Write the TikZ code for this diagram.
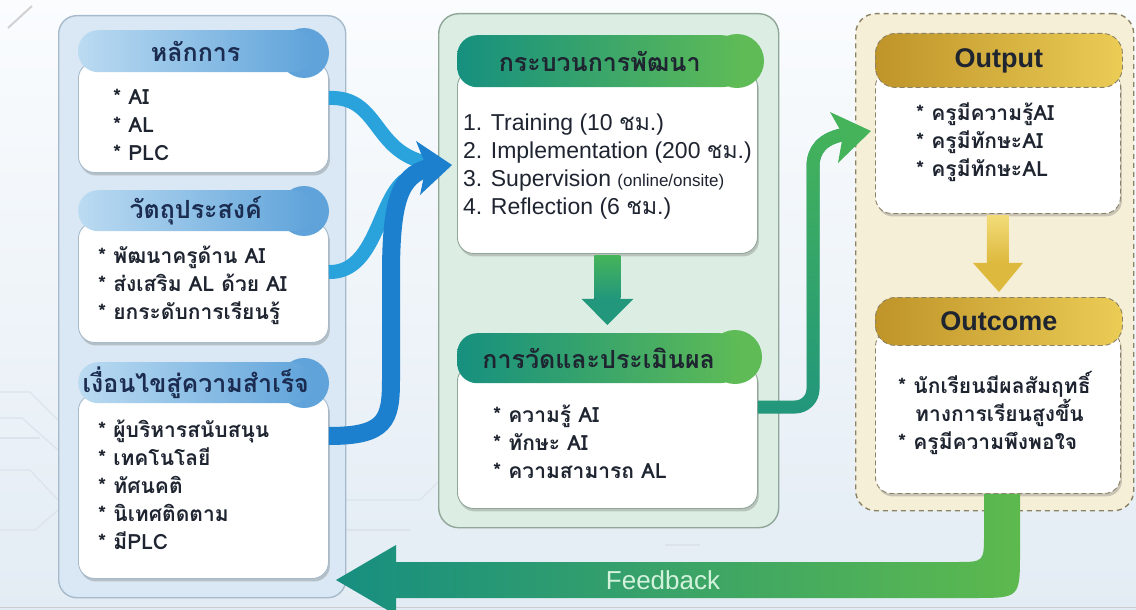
\documentclass[tikz,border=0pt]{standalone}
\usepackage{fontspec}
\setmainfont{Liberation Sans}
\newfontfamily\thai[Script=Thai]{Loma}
\usetikzlibrary{shadows,calc,fadings}
\definecolor{bgtop}{HTML}{FAFCFE}
\definecolor{bgbot}{HTML}{E3ECF4}
\definecolor{lpanel}{HTML}{D9E8F4}
\definecolor{lpanelB}{HTML}{A6BACB}
\definecolor{lhA}{HTML}{BBDBF1}
\definecolor{lhB}{HTML}{5FA3DA}
\definecolor{mpanel}{HTML}{DCEEE3}
\definecolor{mpanelB}{HTML}{8FA698}
\definecolor{mhA}{HTML}{16907F}
\definecolor{mhB}{HTML}{5EBB56}
\definecolor{rpanel}{HTML}{F6EFD7}
\definecolor{rpanelB}{HTML}{8B8266}
\definecolor{rhA}{HTML}{BF9429}
\definecolor{rhB}{HTML}{EBCC55}
\definecolor{txt}{HTML}{1E2430}
\definecolor{navy}{HTML}{1B2C50}
\definecolor{blueA}{HTML}{2AA3DD}
\definecolor{blueB}{HTML}{1C80CF}
\definecolor{fbA}{HTML}{178E80}
\definecolor{fbB}{HTML}{5DB94E}
\definecolor{grA}{HTML}{22977C}
\definecolor{grB}{HTML}{45B35A}
\definecolor{goldA}{HTML}{F2DB78}
\definecolor{goldB}{HTML}{DDB93E}
\definecolor{circ}{HTML}{DCE3EA}
\definecolor{mint}{HTML}{D2F2DC}
\begin{document}
\begin{tikzpicture}[x=1pt,y=-1pt,
  bodybox/.style={draw=#1, line width=0.9pt, fill=white, rounded corners=16pt,
    drop shadow={shadow xshift=1.5pt, shadow yshift=-3pt, opacity=0.35, fill=black!55}},
  hdr/.style={rounded corners=20pt, inner sep=0pt, font=\fontsize{25}{30}\selectfont\bfseries},
  bodytext/.style={anchor=west, align=left, inner sep=0pt, text=txt, font=\fontsize{21}{28}\selectfont\bfseries},
  entext/.style={anchor=west, align=left, inner sep=0pt, text=txt, font=\fontsize{23}{28}\selectfont},
]
% background
\path[use as bounding box, top color=bgtop, bottom color=bgbot] (0,0) rectangle (1136,610);
\draw[gray!40, line width=1pt] (0,607) -- (1136,607);
\draw[gray!35, line width=2pt] (8,28) -- (32,6);
% faint circuit lines
\begin{scope}[circ, line width=1.2pt]
\draw (0,392) -- (30,392) -- (58,420);
\draw (0,418) -- (22,418) -- (58,450);
\draw (0,438) -- (40,438);
\draw (0,470) -- (30,470) -- (58,500);
\draw (0,530) -- (35,530) -- (58,510);
\draw (345,500) -- (420,500) -- (438,482);
\draw (345,530) -- (410,530);
\draw (665,545) -- (700,545);
\end{scope}
% panels
\node[draw=lpanelB, fill=lpanel, line width=1.4pt, rounded corners=18pt, minimum width=287pt, minimum height=582pt, anchor=north west, inner sep=0pt] (lp) at (58,15) {};
\node[draw=mpanelB, fill=mpanel, line width=1.4pt, rounded corners=20pt, minimum width=340pt, minimum height=514pt, anchor=north west, inner sep=0pt] (mp) at (438,13) {};
\node[draw=rpanelB, fill=rpanel, line width=1.4pt, dash pattern=on 5pt off 4pt, rounded corners=20pt, minimum width=278pt, minimum height=497pt, anchor=north west, inner sep=0pt] (rp) at (855,13) {};

% ---------- left column ----------
\node[bodybox=lpanelB, minimum width=250pt, minimum height=110pt, anchor=north west] (b1) at (78,62) {};
\fill[lhB] (304,53) circle (25);
\node[hdr, left color=lhA, right color=lhB, minimum width=235pt, minimum height=42pt, anchor=north west, text=navy] (h1) at (78,30) {\thai หลักการ};
\node[bodytext] (t1) at (113,125) {\thai * AI\\\thai * AL\\\thai * PLC};

\node[bodybox=lpanelB, minimum width=250pt, minimum height=120pt, anchor=north west] (b2) at (78,222) {};
\fill[lhB] (304,211) circle (25);
\node[hdr, left color=lhA, right color=lhB, minimum width=235pt, minimum height=41pt, anchor=north west, text=navy] (h2) at (78,190) {\thai วัตถุประสงค์};
\node[bodytext] (t2) at (98,285) {\thai * พัฒนาครูด้าน AI\\\thai * ส่งเสริม AL ด้วย AI\\\thai * ยกระดับการเรียนรู้};

\node[bodybox=lpanelB, minimum width=250pt, minimum height=184pt, anchor=north west] (b3) at (78,394) {};
\fill[lhB] (304,383) circle (25);
\node[hdr, left color=lhA, right color=lhB, minimum width=235pt, minimum height=41pt, anchor=north west, text=navy] (h3) at (78,362) {\thai เงื่อนไขสู่ความสำเร็จ};
\node[bodytext] (t3) at (98,485) {\thai * ผู้บริหารสนับสนุน\\\thai * เทคโนโลยี\\\thai * ทัศนคติ\\\thai * นิเทศติดตาม\\\thai * มีPLC};

% ---------- middle column ----------
\node[bodybox=mpanelB, minimum width=300pt, minimum height=183pt, anchor=north west] (m1) at (457,70) {};
\fill[mhB] (737,61) circle (27);
\node[hdr, left color=mhA, right color=mhB, minimum width=285pt, minimum height=52pt, anchor=north west, text=txt] (mh1) at (457,35) {\thai กระบวนการพัฒนา};
\node[entext] (mt1) at (463,167) {1. Training (10 {\thai ชม.})\\2. Implementation (200 {\thai ชม.})\\3. Supervision {\fontsize{17}{20}\selectfont(online/onsite)}\\4. Reflection (6 {\thai ชม.})};

\node[bodybox=mpanelB, minimum width=300pt, minimum height=143pt, anchor=north west] (m2) at (457,365) {};
\fill[mhB] (735,357) circle (27);
\node[hdr, left color=mhA, right color=mhB, minimum width=283pt, minimum height=50pt, anchor=north west, text=txt] (mh2) at (457,333) {\thai การวัดและประเมินผล};
\node[bodytext] (mt2) at (493,442) {\thai * ความรู้ AI\\\thai * ทักษะ AI\\\thai * ความสามารถ AL};

% middle down arrow
\fill[top color=grB, bottom color=grA] ($(m1.south)+(-13,2)$) rectangle ($(m1.south)+(13,45)$);
\fill[grA] ($(m1.south)+(-26,45)$) -- ($(m1.south)+(26,45)$) -- ($(m2.north)+(0,-40)$) -- cycle;

% ---------- right column ----------
\node[bodybox=rpanelB, dash pattern=on 5pt off 3pt, minimum width=245pt, minimum height=143pt, anchor=north west] (o1) at (875,70) {};
\node[hdr, draw=rpanelB, dash pattern=on 5pt off 3pt, line width=0.9pt, left color=rhA, right color=rhB, minimum width=247pt, minimum height=54pt, anchor=north west, text=txt, font=\fontsize{27}{30}\selectfont\bfseries] (oh1) at (875,33) {Output};
\node[bodytext] (ot1) at (916,142) {\thai * ครูมีความรู้AI\\\thai * ครูมีทักษะAI\\\thai * ครูมีทักษะAL};

\node[bodybox=rpanelB, dash pattern=on 5pt off 3pt, minimum width=245pt, minimum height=163pt, anchor=north west] (o2) at (875,330) {};
\node[hdr, draw=rpanelB, dash pattern=on 5pt off 3pt, line width=0.9pt, left color=rhA, right color=rhB, minimum width=247pt, minimum height=48pt, anchor=north west, text=txt, font=\fontsize{27}{30}\selectfont\bfseries] (oh2) at (875,297) {Outcome};
\node[bodytext] (ot2) at (898,413) {\thai * นักเรียนมีผลสัมฤทธิ์\\\thai \hspace*{17pt}ทางการเรียนสูงขึ้น\\\thai * ครูมีความพึงพอใจ};

% gold down arrow
\fill[top color=goldA, bottom color=goldB] ($(o1.south)+(-11,2)$) rectangle ($(o1.south)+(11,49)$);
\fill[goldB] ($(o1.south)+(-25,49)$) -- ($(o1.south)+(25,49)$) -- ($(oh2.north)+(0,-5)$) -- cycle;

% ---------- blue connectors ----------
\coordinate (bt) at (452,165);
\draw[blueA, line width=14pt] (b1.east |- 0,98) .. controls (380,96) and (372,152) .. (428,163);
\draw[blueA, line width=14pt] (b2.east |- 0,272) .. controls (376,273) and (378,200) .. (405,180);
\draw[blueB, line width=18pt] (b3.east |- 0,436) .. controls (386,436) and (391,420) .. (391,380) -- (391,275) .. controls (391,200) and (400,176) .. (428,168);
\fill[blueB] (bt) -- (416,141) -- (426,166) -- (420,195) -- cycle;

% ---------- green connector ----------
\coordinate (gt) at (871,131);
\draw[grA, line width=13pt, rounded corners=18pt] (m2.east |- 0,407) -- (813,407) -- (813,185) .. controls (813,150) and (822,138) .. (846,134);
\draw[grB, line width=13pt, rounded corners=18pt, path fading=south] (m2.east |- 0,407) -- (813,407) -- (813,185) .. controls (813,150) and (822,138) .. (846,134);
\fill[grB] (gt) -- (830,112) -- (843,135) -- (838,163) -- cycle;

% ---------- feedback ----------
\coordinate (ft) at (336,580);
\path[left color=fbA, right color=fbB]
  (ft) -- (396,545) -- (396,562) -- (956,562) .. controls (984,562) .. (984,534) -- (o2.south -| 984,0) -- (o2.south -| 1020,0) -- (1020,552) .. controls (1020,598) .. (974,598) -- (396,598) -- (396,615) -- cycle;
\node[text=mint, font=\fontsize{26}{28}\selectfont] (fb) at (663,580) {Feedback};
\end{tikzpicture}
\end{document}
